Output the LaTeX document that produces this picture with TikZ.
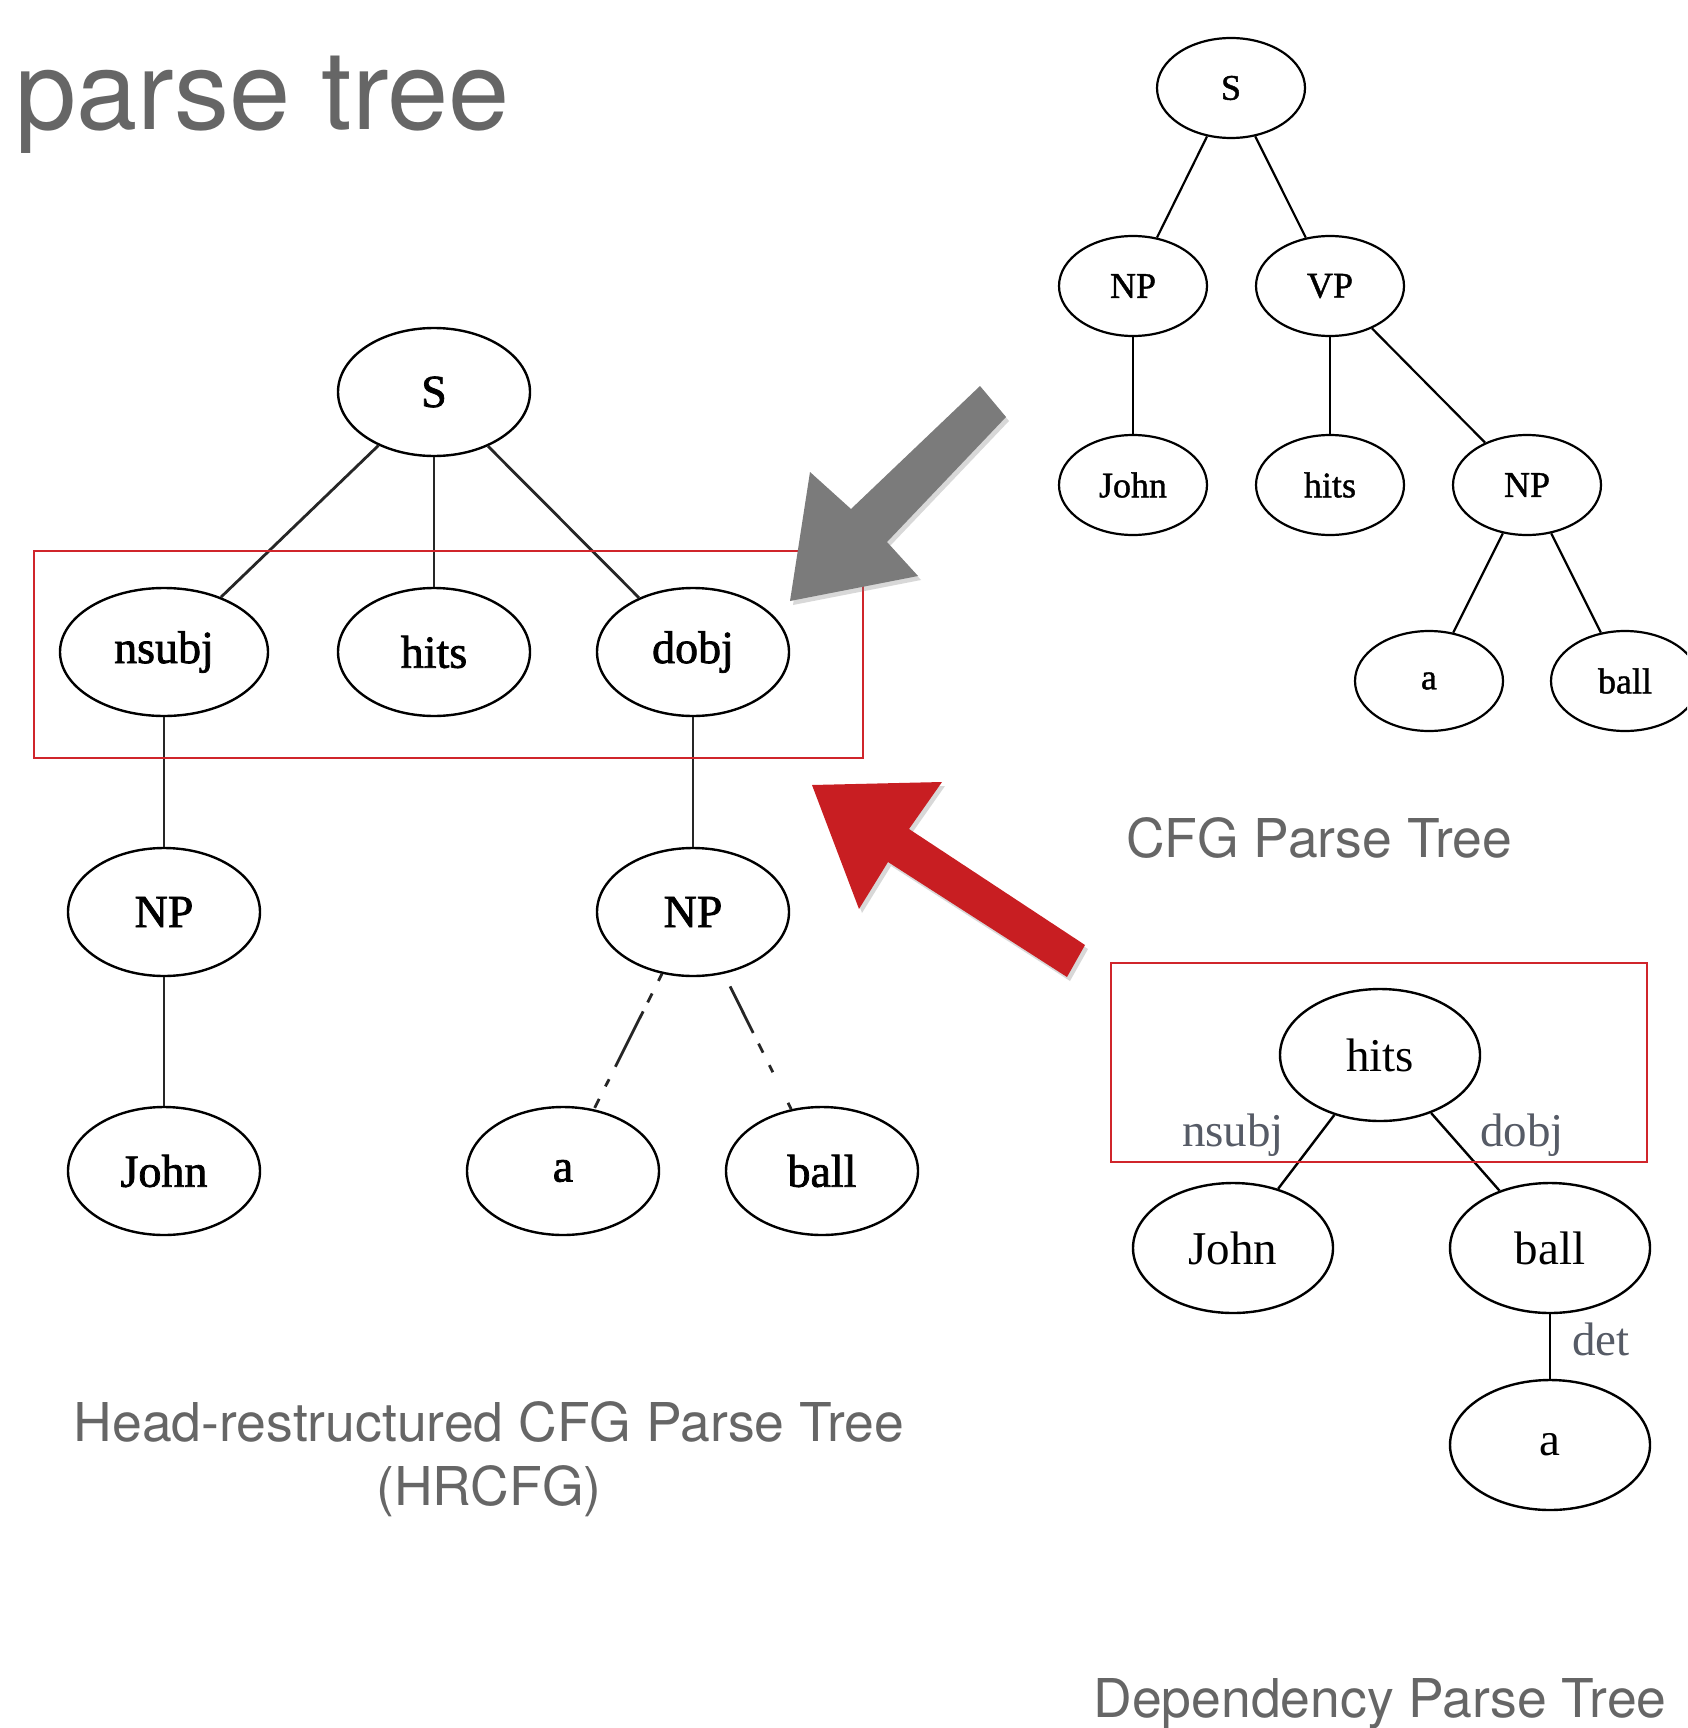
\documentclass[tikz,border=0pt]{standalone}
\usepackage{fontspec}
\setmainfont{Liberation Serif}
\newfontfamily\scanfont[FakeBold=1.6]{Liberation Serif}
\newfontfamily\cfgfont[FakeBold=1.2]{Liberation Serif}
\newfontfamily\capfont{TeX Gyre Heros}
\usetikzlibrary{shapes.geometric,shadows}
\definecolor{capgray}{HTML}{666666}
\definecolor{boxred}{HTML}{D0252B}
\definecolor{arrred}{HTML}{C81E22}
\definecolor{arrgray}{HTML}{7B7B7B}
\definecolor{labgray}{HTML}{565B66}
\begin{document}
\begin{tikzpicture}[x=1pt,y=-1pt,
  hrnode/.style={ellipse,draw,line width=2.4pt,inner sep=0pt,minimum width=192pt,minimum height=128pt,font=\scanfont\fontsize{46}{50}\selectfont},
  cfgnode/.style={ellipse,draw,line width=2.2pt,inner sep=0pt,minimum width=148pt,minimum height=100pt,font=\cfgfont\fontsize{36}{40}\selectfont},
  depnode/.style={ellipse,draw,line width=2.4pt,inner sep=0pt,minimum width=200pt,minimum height=130pt,font=\fontsize{47}{52}\selectfont},
  hredge/.style={line width=2.8pt,black!85},
  cfgedge/.style={line width=2.2pt},
  depedge/.style={line width=2.4pt},
  redbox/.style={draw=boxred,line width=2.2pt},
  caption/.style={font=\capfont\fontsize{53.5}{62}\selectfont,text=capgray,inner sep=0pt,anchor=base},
  deplabel/.style={font=\fontsize{47}{52}\selectfont,text=labgray,inner sep=0pt,anchor=base},
  bigarrow/.style={drop shadow={opacity=0.3,shadow xshift=3pt,shadow yshift=-4pt}}
]
\clip (0,0) rectangle (1687,1728);
\fill[white] (0,0) rectangle (1687,1728);

% title
\node[font=\capfont\fontsize{110}{120}\selectfont,text=capgray,inner sep=0pt,anchor=base west] (title) at (15,130) {parse tree};

% ---------- HRCFG tree ----------
\node[hrnode] (hS) at (434,392) {S};
\node[hrnode,minimum width=208pt] (hnsubj) at (164,652) {nsubj};
\node[hrnode] (hhits) at (434,652) {hits};
\node[hrnode] (hdobj) at (693,652) {dobj};
\node[hrnode] (hNPl) at (164,912) {NP};
\node[hrnode] (hNPr) at (693,912) {NP};
\node[hrnode] (hJohn) at (164,1171) {John};
\node[hrnode] (ha) at (563,1171) {a};
\node[hrnode] (hball) at (822,1171) {ball};
\draw[hredge] (hS) -- (hnsubj);
\draw[hredge] (hS) -- (hhits);
\draw[hredge] (hS) -- (hdobj);
\draw[hredge] (hnsubj) -- (hNPl);
\draw[hredge] (hNPl) -- (hJohn);
\draw[hredge] (hdobj) -- (hNPr);
\draw[hredge,dash pattern=on 8pt off 14pt on 10pt off 10pt on 62pt off 14pt] (hNPr) -- (ha);
\draw[hredge,dash pattern=on 0pt off 14pt on 52pt off 12pt on 10pt off 14pt on 8pt off 20pt] (hNPr) -- (hball);
\draw[redbox] (34,551) rectangle (863,758);

\node[caption] (hcap1) at (489,1441) {Head-restructured CFG Parse Tree};
\node[caption] (hcap2) at (489,1505) {(HRCFG)};

% ---------- CFG tree ----------
\node[cfgnode] (cS) at (1231,88) {S};
\node[cfgnode] (cNP) at (1133,286) {NP};
\node[cfgnode] (cVP) at (1330,286) {VP};
\node[cfgnode] (cJohn) at (1133,485) {John};
\node[cfgnode] (chits) at (1330,485) {hits};
\node[cfgnode] (cNP2) at (1527,485) {NP};
\node[cfgnode] (ca) at (1429,681) {a};
\node[cfgnode] (cball) at (1625,681) {ball};
\draw[cfgedge] (cS) -- (cNP);
\draw[cfgedge] (cS) -- (cVP);
\draw[cfgedge] (cNP) -- (cJohn);
\draw[cfgedge] (cVP) -- (chits);
\draw[cfgedge] (cVP) -- (cNP2);
\draw[cfgedge] (cNP2) -- (ca);
\draw[cfgedge] (cNP2) -- (cball);
\node[caption] (ccap) at (1319,857) {CFG Parse Tree};

% ---------- Dependency tree ----------
\node[depnode,minimum height=132pt] (dhits) at (1380,1055) {hits};
\node[depnode] (dJohn) at (1233,1248) {John};
\node[depnode] (dball) at (1550,1248) {ball};
\node[depnode] (da) at (1550,1445) {a};
\draw[depedge] (dhits) -- (dJohn);
\draw[depedge] (dhits) -- (dball);
\draw[depedge] (dball) -- (da);
\node[deplabel] (lnsubj) at (1233,1146) {nsubj};
\node[deplabel] (ldobj) at (1522,1146) {dobj};
\node[deplabel] (ldet) at (1601,1355) {det};
\draw[redbox] (1111,963) rectangle (1647,1162);
\node[caption] (dcap) at (1380,1717) {Dependency Parse Tree};

% ---------- arrows ----------
\fill[arrgray,bigarrow] (980,386) -- (1006,417) -- (887,542) -- (918,576) -- (790,601) -- (810,472) -- (851,509) -- cycle;
\fill[arrred,bigarrow] (1085,945) -- (1067,977) -- (888,862) -- (859,909) -- (812,785) -- (942,782) -- (909,829) -- cycle;
\end{tikzpicture}
\end{document}
